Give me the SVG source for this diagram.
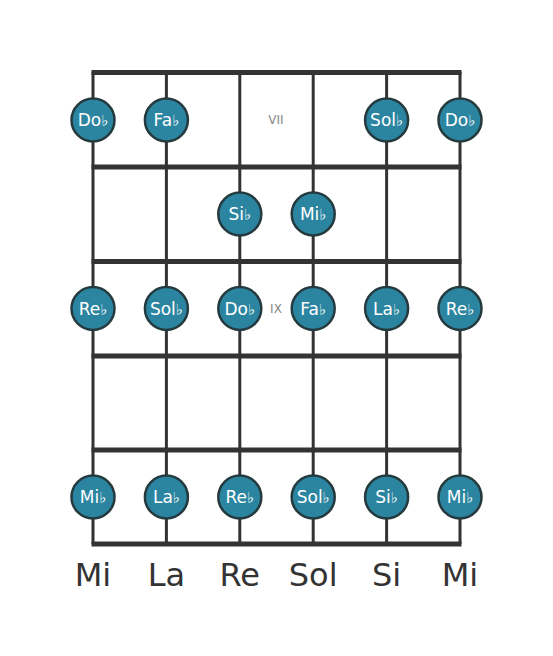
<svg xmlns="http://www.w3.org/2000/svg" width="553" height="656" viewBox="0 0 553 656">
<style>
.str{stroke:#333;stroke-width:3;fill:none}
.fret{stroke:#333;stroke-width:5;fill:none}
.note circle{fill:#2b85a0;stroke:#253a3e;stroke-width:2.5}
.note text{fill:#fff;font-family:"DejaVu Sans",sans-serif;font-size:17px;text-anchor:middle}
.note tspan{font-size:15px}
.pos{fill:#888;font-family:"DejaVu Sans",sans-serif;font-size:12px;text-anchor:middle;dominant-baseline:central}
.tun{fill:#333;font-family:"DejaVu Sans",sans-serif;font-size:32px;text-anchor:middle}
</style>
<rect width="553" height="656" fill="#fff"/>
<g id="connectors">
<line class="str" x1="93" y1="72" x2="93" y2="544"/>
<line class="str" x1="166.4" y1="72" x2="166.4" y2="544"/>
<line class="str" x1="239.8" y1="72" x2="239.8" y2="544"/>
<line class="str" x1="313.2" y1="72" x2="313.2" y2="544"/>
<line class="str" x1="386.6" y1="72" x2="386.6" y2="544"/>
<line class="str" x1="460" y1="72" x2="460" y2="544"/>
<line class="fret" x1="91.5" y1="72.5" x2="461.5" y2="72.5"/>
<line class="fret" x1="91.5" y1="167" x2="461.5" y2="167"/>
<line class="fret" x1="91.5" y1="261.5" x2="461.5" y2="261.5"/>
<line class="fret" x1="91.5" y1="356" x2="461.5" y2="356"/>
<line class="fret" x1="91.5" y1="450" x2="461.5" y2="450"/>
<line class="fret" x1="91.5" y1="544" x2="461.5" y2="544"/>
</g>
<text class="pos" x="276" y="120">VII</text>
<text class="pos" x="276" y="309">IX</text>
<g id="n1" class="note"><circle cx="93" cy="120" r="21.5"/><text x="93" y="126">Do<tspan>♭</tspan></text></g>
<g id="n2" class="note"><circle cx="166.4" cy="120" r="21.5"/><text x="166.4" y="126">Fa<tspan>♭</tspan></text></g>
<g id="n3" class="note"><circle cx="386.6" cy="120" r="21.5"/><text x="386.6" y="126">Sol<tspan>♭</tspan></text></g>
<g id="n4" class="note"><circle cx="460" cy="120" r="21.5"/><text x="460" y="126">Do<tspan>♭</tspan></text></g>
<g id="n5" class="note"><circle cx="239.8" cy="214" r="21.5"/><text x="239.8" y="220">Si<tspan>♭</tspan></text></g>
<g id="n6" class="note"><circle cx="313.2" cy="214" r="21.5"/><text x="313.2" y="220">Mi<tspan>♭</tspan></text></g>
<g id="n7" class="note"><circle cx="93" cy="308.5" r="21.5"/><text x="93" y="314.5">Re<tspan>♭</tspan></text></g>
<g id="n8" class="note"><circle cx="166.4" cy="308.5" r="21.5"/><text x="166.4" y="314.5">Sol<tspan>♭</tspan></text></g>
<g id="n9" class="note"><circle cx="239.8" cy="308.5" r="21.5"/><text x="239.8" y="314.5">Do<tspan>♭</tspan></text></g>
<g id="n10" class="note"><circle cx="313.2" cy="308.5" r="21.5"/><text x="313.2" y="314.5">Fa<tspan>♭</tspan></text></g>
<g id="n11" class="note"><circle cx="386.6" cy="308.5" r="21.5"/><text x="386.6" y="314.5">La<tspan>♭</tspan></text></g>
<g id="n12" class="note"><circle cx="460" cy="308.5" r="21.5"/><text x="460" y="314.5">Re<tspan>♭</tspan></text></g>
<g id="n13" class="note"><circle cx="93" cy="497" r="21.5"/><text x="93" y="503">Mi<tspan>♭</tspan></text></g>
<g id="n14" class="note"><circle cx="166.4" cy="497" r="21.5"/><text x="166.4" y="503">La<tspan>♭</tspan></text></g>
<g id="n15" class="note"><circle cx="239.8" cy="497" r="21.5"/><text x="239.8" y="503">Re<tspan>♭</tspan></text></g>
<g id="n16" class="note"><circle cx="313.2" cy="497" r="21.5"/><text x="313.2" y="503">Sol<tspan>♭</tspan></text></g>
<g id="n17" class="note"><circle cx="386.6" cy="497" r="21.5"/><text x="386.6" y="503">Si<tspan>♭</tspan></text></g>
<g id="n18" class="note"><circle cx="460" cy="497" r="21.5"/><text x="460" y="503">Mi<tspan>♭</tspan></text></g>
<text class="tun" x="93" y="586">Mi</text>
<text class="tun" x="166.4" y="586">La</text>
<text class="tun" x="239.8" y="586">Re</text>
<text class="tun" x="313.2" y="586">Sol</text>
<text class="tun" x="386.6" y="586">Si</text>
<text class="tun" x="460" y="586">Mi</text>
</svg>
